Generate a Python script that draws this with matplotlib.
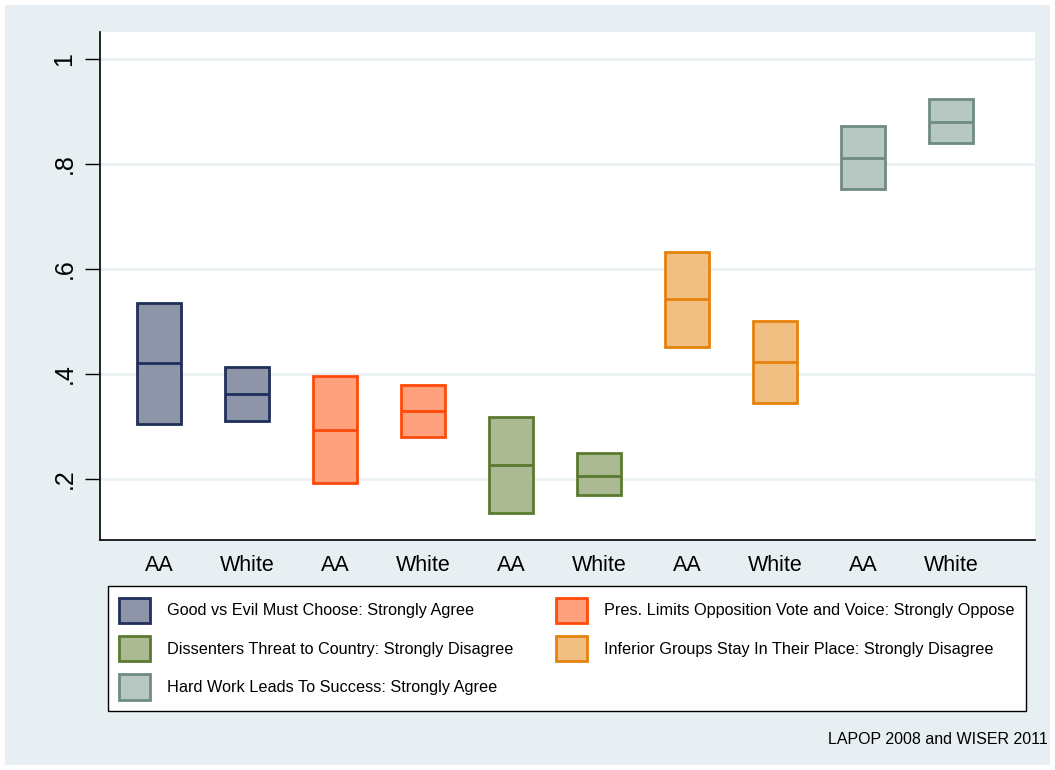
import matplotlib.pyplot as plt
from matplotlib.patches import Patch

plt.rcParams['font.family'] = ['Liberation Sans', 'DejaVu Sans']

# confidence range (low, point estimate, high) for each group
groups = ['AA', 'White', 'AA', 'White', 'AA', 'White', 'AA', 'White', 'AA', 'White']
lows = [0.305, 0.310, 0.192, 0.280, 0.135, 0.170, 0.451, 0.345, 0.752, 0.840]
mids = [0.421, 0.362, 0.293, 0.330, 0.227, 0.206, 0.543, 0.423, 0.811, 0.880]
highs = [0.535, 0.413, 0.396, 0.379, 0.318, 0.250, 0.632, 0.501, 0.872, 0.924]
items = [
    'Good vs Evil Must Choose: Strongly Agree',
    'Pres. Limits Opposition Vote and Voice: Strongly Oppose',
    'Dissenters Threat to Country: Strongly Disagree',
    'Inferior Groups Stay In Their Place: Strongly Disagree',
    'Hard Work Leads To Success: Strongly Agree',
]
y_ticks = [0.2, 0.4, 0.6, 0.8, 1.0]
y_tick_labels = ['.2', '.4', '.6', '.8', '1']

edge_colors = ['#1f2f5a', '#ff4a0a', '#5b7a31', '#e6820c', '#6f8c80']
fill_colors = ['#8f95a9', '#ffa17c', '#abba92', '#f0c082', '#b7c8c2']

bg = '#e8eff2'
fig = plt.figure(figsize=(10.55, 7.7), dpi=100)
fig.patch.set_facecolor(bg)
fig.patch.set_edgecolor('white')
fig.patch.set_linewidth(6)

ax = fig.add_axes([100 / 1055, 230 / 770, 935 / 1055, 508 / 770])
ax.set_facecolor('white')

xs = list(range(len(groups)))
for i, x in enumerate(xs):
    k = i // 2
    ax.bar(x, highs[i] - lows[i], bottom=lows[i], width=0.5,
           color=fill_colors[k], edgecolor=edge_colors[k], linewidth=2, zorder=3)
    ax.hlines(mids[i], x - 0.25, x + 0.25, color=edge_colors[k], linewidth=2, zorder=4)

ax.set_xlim(-0.67, 9.95)
ax.set_ylim(0.084, 1.051)
ax.set_yticks(y_ticks)
ax.set_yticklabels(y_tick_labels, rotation=90, va='center', fontsize=18)
ax.set_xticks(xs)
ax.set_xticklabels(groups, fontsize=15.5)
ax.tick_params(axis='x', length=0, pad=11)
ax.tick_params(axis='y', length=11, width=1, pad=6)
ax.grid(axis='y', color=bg, linewidth=1.8, zorder=0)
ax.set_axisbelow(True)
for side in ['top', 'right']:
    ax.spines[side].set_visible(False)
for side in ['left', 'bottom']:
    ax.spines[side].set_linewidth(1.2)

handles = [Patch(facecolor=fill_colors[k], edgecolor=edge_colors[k], linewidth=2, label=items[k])
           for k in [0, 2, 4, 1, 3]]
leg = fig.legend(handles=handles, ncol=2, mode='expand', loc='upper left',
                 bbox_to_anchor=(108 / 1055, (770 - 587) / 770, 918 / 1055, 0.001),
                 fontsize=11.7, handlelength=1.9, handleheight=2.0, handletextpad=1.05,
                 labelspacing=0.82, borderpad=0.7, borderaxespad=0,
                 fancybox=False, framealpha=1, edgecolor='black')
leg.get_frame().set_linewidth(1.0)

fig.text(1048 / 1055, (770 - 740) / 770, 'LAPOP 2008 and WISER 2011',
         ha='right', va='center', fontsize=11.5)

fig.savefig('out.png', dpi=100, facecolor=fig.get_facecolor(), edgecolor=fig.get_edgecolor())
